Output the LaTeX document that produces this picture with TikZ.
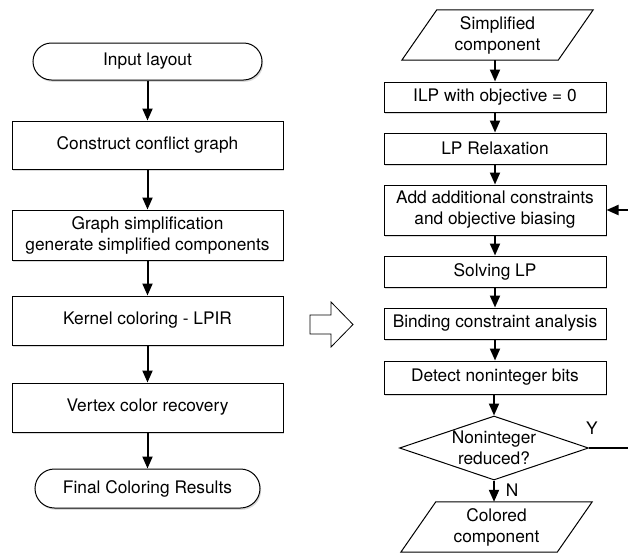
\documentclass[tikz,border=0pt]{standalone}
\usepackage{fontspec}
\setmainfont{TeX Gyre Heros}
\usetikzlibrary{arrows.meta,shapes.geometric,shapes.misc,shadows}
\begin{document}
\begin{tikzpicture}[x=1pt,y=-1pt,
  font=\fontsize{17.3}{21}\selectfont,
  shad/.style={drop shadow={opacity=0.3,shadow xshift=1.2pt,shadow yshift=-1.8pt}},
  lbox/.style={draw,line width=1pt,fill=white,rectangle,minimum width=271pt,inner sep=0pt,align=center,shad},
  rbox/.style={draw,line width=1pt,fill=white,rectangle,minimum width=222pt,inner sep=0pt,align=center,shad},
  term/.style={draw,line width=1pt,fill=white,rounded rectangle,inner sep=0pt,align=center,shad},
  para/.style={rectangle,minimum width=156pt,minimum height=50pt,inner sep=0pt,align=center},
  pline/.style={line width=1pt},
  flow/.style={line width=2pt,-{Triangle[length=12pt,width=10pt]}},
  plain/.style={line width=1.4pt}
]
\useasboundingbox (0,0) rectangle (628,552);

% left column
\node[term,minimum width=229pt,minimum height=37pt] (in) at (147.5,61.5) {Input layout};
\node[lbox,minimum height=48pt] (cg) at (147.5,145) {Construct conflict graph};
\node[lbox,minimum height=50pt] (gs) at (147.5,235) {Graph simplification\\generate simplified components};
\node[lbox,minimum height=49pt] (kc) at (147.5,320.5) {Kernel coloring - LPIR};
\node[lbox,minimum height=49pt] (vc) at (147.5,407.5) {Vertex color recovery};
\node[term,minimum width=225pt,minimum height=39pt] (fin) at (147.5,488.5) {Final Coloring Results};

\draw[flow] (in) -- (cg);
\draw[flow] (cg) -- (gs);
\draw[flow] (gs) -- (kc);
\draw[flow] (kc) -- (vc);
\draw[flow] (vc) -- (fin);

% big hollow arrow
\draw[line width=0.8pt,fill=white] (310,315) -- (331,315) -- (331,302) -- (353,324.5) -- (331,347) -- (331,334) -- (310,334) -- cycle;

% right column
\node[para] (sc) at (497.5,35) {Simplified\\component};
\draw[pline] ([xshift=-17.5pt]sc.south west) -- ([xshift=17.5pt]sc.north west) -- ([xshift=17.5pt]sc.north east) -- ([xshift=-17.5pt]sc.south east) -- cycle;
\node[rbox,minimum height=30pt] (ilp) at (495,97) {ILP with objective = 0};
\node[rbox,minimum height=31pt] (lp) at (495,148.5) {LP Relaxation};
\node[rbox,minimum height=50pt] (add) at (495,210) {Add additional constraints\\and objective biasing};
\node[rbox,minimum height=31pt] (sol) at (495,271.5) {Solving LP};
\node[rbox,minimum height=31pt] (bca) at (495,323.5) {Binding constraint analysis};
\node[rbox,minimum height=33pt] (det) at (495,377.5) {Detect noninteger bits};
\node[draw,line width=1pt,diamond,minimum width=189pt,minimum height=64pt,inner sep=0pt] (dia) at (494,448) {};
\node[align=center,inner sep=0pt] (diat) at (dia.center) {Noninteger\\reduced?};
\node[para] (cc) at (496.5,527) {Colored\\component};
\draw[pline] ([xshift=-17.5pt]cc.south west) -- ([xshift=17.5pt]cc.north west) -- ([xshift=17.5pt]cc.north east) -- ([xshift=-17.5pt]cc.south east) -- cycle;

\draw[flow] (sc.south -| ilp.north) -- (ilp);
\draw[flow] (ilp) -- (lp);
\draw[flow] (lp) -- (add);
\draw[flow] (add) -- (sol);
\draw[flow] (sol) -- (bca);
\draw[flow] (bca) -- (det);
\draw[flow] (det.south -| dia.north) -- (dia.north);
\draw[flow] (dia.south) -- (dia.south |- cc.north);

\coordinate (ye) at (628,448);
\coordinate (ae) at (628,210);
\draw[plain] (dia.east) -- (ye);
\draw[flow] (ae) -- (add.east);

\node[anchor=center,inner sep=0pt] (ylab) at (592,428) {Y};
\node[anchor=center,inner sep=0pt] (nlab) at (512,490) {N};
\end{tikzpicture}
\end{document}
